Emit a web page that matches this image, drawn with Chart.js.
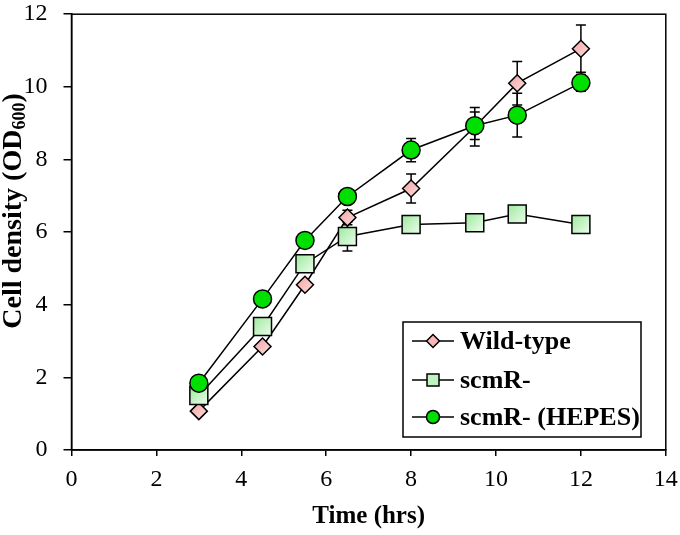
<!DOCTYPE html>
<html>
<head>
<meta charset="utf-8">
<script src="https://cdn.jsdelivr.net/npm/chart.js@4/dist/chart.umd.min.js"></script>
<style>
  html, body { margin: 0; padding: 0; background: #fff; }
  #wrap { width: 680px; height: 535px; position: relative; }
</style>
</head>
<body>
<div id="wrap"><canvas id="growthChart" width="680" height="535"></canvas></div>
<script>
// Data
const timeHrs = [3, 4.5, 5.5, 6.5, 8, 9.5, 10.5, 12];
const wildType = [1.07, 2.85, 4.55, 6.4, 7.2, 8.9, 10.1, 11.05];
const wildTypeErr = [0, 0, 0, 0.2, 0.4, 0.53, 0.6, 0.65];
const scmR = [1.5, 3.4, 5.13, 5.88, 6.21, 6.26, 6.5, 6.21];
const scmRErr = [0, 0, 0, 0.4, 0, 0, 0.1, 0];
const scmRHepes = [1.84, 4.16, 5.77, 6.98, 8.26, 8.93, 9.22, 10.11];
const scmRHepesErr = [0, 0, 0, 0, 0.32, 0.38, 0.6, 0.23];
const xTicks = [0, 2, 4, 6, 8, 10, 12, 14];
const yTicks = [0, 2, 4, 6, 8, 10, 12];

const serif = "'Liberation Serif', 'Times New Roman', serif";

function toPoints(values) {
    return timeHrs.map((t, i) => ({ x: t, y: values[i] }));
}

// gradient fill for each marker, placed around the point via the scales
function markerFill(c0, c1, r) {
    return function (ctx) {
        if (ctx.type !== 'data' || !ctx.parsed) return c0;
        const xs = ctx.chart.scales.x, ys = ctx.chart.scales.y;
        if (!xs || !ys) return c0;
        const px = xs.getPixelForValue(ctx.parsed.x);
        const py = ys.getPixelForValue(ctx.parsed.y);
        if (!Number.isFinite(px) || !Number.isFinite(py)) return c0;
        const g = ctx.chart.ctx.createLinearGradient(px - r, py - r, px + r, py + r);
        g.addColorStop(0, c0);
        g.addColorStop(1, c1);
        return g;
    };
}

// Error bars, drawn under the markers
const errorBars = {
    id: 'errorBars',
    beforeDatasetsDraw(chart) {
        const ctx = chart.ctx;
        const ys = chart.scales.y;
        ctx.save();
        ctx.strokeStyle = '#000';
        ctx.lineWidth = 1.5;
        chart.data.datasets.forEach((ds, di) => {
            const meta = chart.getDatasetMeta(di);
            meta.data.forEach((pt, i) => {
                const e = ds.errors[i];
                if (!e) return;
                const yTop = ys.getPixelForValue(ds.data[i].y + e);
                const yBot = ys.getPixelForValue(ds.data[i].y - e);
                ctx.beginPath();
                ctx.moveTo(pt.x, yTop); ctx.lineTo(pt.x, yBot);
                ctx.moveTo(pt.x - 5, yTop); ctx.lineTo(pt.x + 5, yTop);
                ctx.moveTo(pt.x - 5, yBot); ctx.lineTo(pt.x + 5, yBot);
                ctx.stroke();
            });
        });
        ctx.restore();
    }
};

// Frame, y-axis title with subscript, and legend box
const decorations = {
    id: 'decorations',
    afterDraw(chart) {
        const ctx = chart.ctx;
        const a = chart.chartArea;
        ctx.save();
        ctx.strokeStyle = '#000';
        ctx.lineWidth = 1.5;
        ctx.strokeRect(a.left, a.top, a.right - a.left, a.bottom - a.top);

        // y title
        ctx.save();
        ctx.translate(21, 211);
        ctx.rotate(-Math.PI / 2);
        ctx.fillStyle = '#000';
        ctx.textBaseline = 'alphabetic';
        const big = 'bold 28px ' + serif, small = 'bold 18px ' + serif;
        const p1 = 'Cell density (OD', p2 = '600', p3 = ')';
        ctx.font = big; const w1 = ctx.measureText(p1).width, w3 = ctx.measureText(p3).width;
        ctx.font = small; const w2 = ctx.measureText(p2).width;
        let x = -(w1 + w2 + w3) / 2;
        ctx.font = big; ctx.fillText(p1, x, 0); x += w1;
        ctx.font = small; ctx.fillText(p2, x, 4); x += w2;
        ctx.font = big; ctx.fillText(p3, x, 0);
        ctx.restore();

        // legend
        const box = { x: 403, y: 322, w: 238, h: 115 };
        ctx.fillStyle = '#fff';
        ctx.fillRect(box.x, box.y, box.w, box.h);
        ctx.lineWidth = 1.5;
        ctx.strokeRect(box.x, box.y, box.w, box.h);
        const rows = [341, 380, 417];
        chart.data.datasets.slice().sort((p, q) => p.legendIndex - q.legendIndex).forEach((ds, i) => {
            const cy = rows[i];
            ctx.strokeStyle = '#000';
            ctx.lineWidth = 1.5;
            ctx.beginPath();
            ctx.moveTo(412, cy); ctx.lineTo(454, cy);
            ctx.stroke();
            ctx.fillStyle = ds.legendColor;
            ctx.beginPath();
            const cx = 433, r = 6.5;
            if (ds.pointStyle === 'rectRot') {
                ctx.moveTo(cx - r, cy); ctx.lineTo(cx, cy - r); ctx.lineTo(cx + r, cy); ctx.lineTo(cx, cy + r); ctx.closePath();
            } else if (ds.pointStyle === 'rect') {
                ctx.rect(cx - 6, cy - 6, 12, 12);
            } else {
                ctx.arc(cx, cy, r, 0, Math.PI * 2);
            }
            ctx.fill();
            ctx.stroke();
            ctx.fillStyle = '#000';
            ctx.font = 'bold 26px ' + serif;
            ctx.textBaseline = 'middle';
            ctx.fillText(ds.label, 460, cy + 1);
        });
        ctx.restore();
    }
};

const growthCtx = document.getElementById('growthChart').getContext('2d');
const growthChart = new Chart(growthCtx, {
    type: 'line',
    data: {
        datasets: [
            {
                label: 'scmR- (HEPES)',
                data: toPoints(scmRHepes),
                errors: scmRHepesErr,
                legendIndex: 2,
                legendColor: '#00e000',
                order: 0,
                pointStyle: 'circle',
                pointRadius: 9,
                backgroundColor: '#00e000',
                borderColor: '#000'
            },
            {
                label: 'scmR-',
                data: toPoints(scmR),
                errors: scmRErr,
                legendIndex: 1,
                legendColor: '#bff3bf',
                order: 1,
                pointStyle: 'rect',
                pointRadius: 12.7,
                backgroundColor: markerFill('#9ee99e', '#ecfdec', 9),
                borderColor: '#000'
            },
            {
                label: 'Wild-type',
                data: toPoints(wildType),
                errors: wildTypeErr,
                legendIndex: 0,
                legendColor: '#f8b7b7',
                order: 2,
                pointStyle: 'rectRot',
                pointRadius: 8.5,
                backgroundColor: markerFill('#f4a2a2', '#fddede', 8),
                borderColor: '#000'
            }
        ]
    },
    options: {
        responsive: false,
        animation: false,
        layout: { padding: { top: 11, right: 13.5, left: 0, bottom: 0 } },
        elements: {
            line: { borderWidth: 1.5, tension: 0, fill: false },
            point: { borderWidth: 1.5, hoverRadius: 9 }
        },
        plugins: {
            legend: { display: false },
            tooltip: { enabled: false }
        },
        scales: {
            x: {
                type: 'linear',
                min: 0,
                max: 14,
                afterFit: s => {
                    s.height = 85;
                    s.paddingLeft = 0;
                    s.paddingRight = 0;
                },
                afterBuildTicks: s => { s.ticks = xTicks.map(v => ({ value: v })); },
                grid: { drawOnChartArea: false, color: '#000', tickLength: 6, lineWidth: 1.5 },
                border: { color: '#000', width: 1.5 },
                ticks: { color: '#000', font: { family: serif, size: 24 }, padding: 9, maxRotation: 0 },
                title: {
                    display: true,
                    text: 'Time (hrs)',
                    color: '#000',
                    font: { family: serif, size: 25, weight: 'bold' },
                    padding: { top: 0, bottom: 3 }
                }
            },
            y: {
                min: 0,
                max: 12,
                afterFit: s => {
                    s.width = 71.5;
                    s.paddingTop = 0;
                    s.paddingBottom = 0;
                },
                afterBuildTicks: s => { s.ticks = yTicks.map(v => ({ value: v })); },
                grid: { drawOnChartArea: false, color: '#000', tickLength: 8, lineWidth: 1.5 },
                border: { color: '#000', width: 1.5 },
                ticks: { color: '#000', font: { family: serif, size: 24 }, padding: 16 }
            }
        }
    },
    plugins: [errorBars, decorations]
});
</script>
</body>
</html>
